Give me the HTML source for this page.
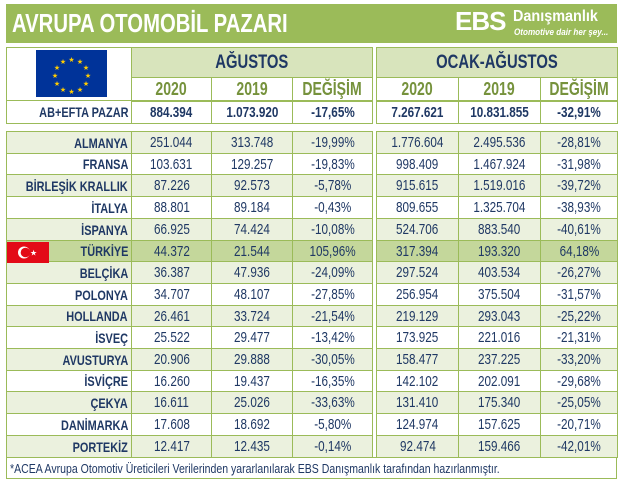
<!DOCTYPE html>
<html><head><meta charset="utf-8"><style>
*{margin:0;padding:0;box-sizing:border-box}
body{width:622px;height:481px;background:#fff;position:relative;overflow:hidden;font-family:"Liberation Sans",sans-serif}
.a{position:absolute}
.c{position:absolute;display:flex;align-items:center;justify-content:center;border:1px solid #9bbb59;font-size:15px;color:#1f3864;white-space:nowrap}
.c span{display:inline-block;transform:scaleX(.78)}
.l{justify-content:flex-end;padding-right:3px;font-weight:bold;font-size:14px}
.l span{transform-origin:right center}
.h{background:#d8e4bc;font-weight:bold;font-size:19px;color:#1f3864}
.y{font-weight:bold;font-size:18px;color:#76923c}
.b{font-weight:bold}
.f{justify-content:flex-start;padding-left:3px}
.f span{transform-origin:left center}
</style></head><body>
<div class="a" style="left:6px;top:4px;width:611px;height:39px;background:#9bbb59"></div>
<div class="a" style="left:12px;top:8px;font-size:26px;font-weight:bold;color:#fff;transform:scaleX(.78);transform-origin:left;white-space:nowrap">AVRUPA OTOMOBİL PAZARI</div>
<div class="a" style="left:455px;top:6px;font-size:26px;font-weight:900;color:#fff;letter-spacing:-1px">EBS</div>
<div class="a" style="left:513px;top:8px;font-size:16px;font-weight:bold;color:#fff;transform:scaleX(.9);transform-origin:left">Danışmanlık</div>
<div class="a" style="left:514px;top:27px;font-size:9px;font-weight:bold;font-style:italic;color:#fff;transform:scaleX(.9);transform-origin:left;white-space:nowrap">Otomotive dair her şey...</div>
<div id="t"></div>
<div class="a" style="left:36px;top:50px;width:71px;height:47px;background:#003399"></div>
<svg class="a" style="left:36px;top:50px" width="71" height="47">
<g fill="#ffcc00" font-size="7" text-anchor="middle" font-family="DejaVu Sans">
<text x="35.5" y="12">★</text><text x="44" y="14">★</text><text x="50" y="20">★</text><text x="52" y="28">★</text><text x="50" y="36">★</text><text x="44" y="42">★</text><text x="35.5" y="44">★</text><text x="27" y="42">★</text><text x="21" y="36">★</text><text x="19" y="28">★</text><text x="21" y="20">★</text><text x="27" y="14">★</text>
</g></svg>
<svg class="a" style="left:7px;top:242px" width="42" height="21"><rect width="42" height="21" fill="#e30a17"/><circle cx="17" cy="10.5" r="6" fill="#fff"/><circle cx="18.5" cy="10.5" r="4.8" fill="#e30a17"/><text x="23" y="13.5" fill="#fff" font-size="8" font-family="DejaVu Sans">★</text></svg>
<div class="c f" style="left:6px;top:457px;width:611px;height:22px;font-size:13px;color:#1f3864"><span style="transform:scaleX(.81)">*ACEA Avrupa Otomotiv Üreticileri Verilerinden yararlanılarak EBS Danışmanlık tarafından hazırlanmıştır.</span></div>
<script>
var L=[6,131,211,292,372],R=[376,458,540,617];
var h='';
function c(x1,x2,y1,y2,t,cl,bg){h+='<div class="c '+(cl||'')+'" style="left:'+x1+'px;top:'+y1+'px;width:'+(x2-x1+1)+'px;height:'+(y2-y1+1)+'px;'+(bg?'background:'+bg:'')+'"><span>'+t+'</span></div>';}
c(L[0],L[1],47,100,'');c(L[1],L[4],47,77,'AĞUSTOS','h');c(R[0],R[3],47,77,'OCAK-AĞUSTOS','h');
var yr=['2020','2019','DEĞİŞİM'];
for(var i=0;i<3;i++){c(L[i+1],L[i+2],77,101,yr[i],'y');c(R[i],R[i+1],77,101,yr[i],'y');}
c(L[0],L[1],100,123,'AB+EFTA PAZAR','l');
var ab=['884.394','1.073.920','-17,65%','7.267.621','10.831.855','-32,91%'];
for(i=0;i<3;i++){c(L[i+1],L[i+2],100,123,ab[i],'b');c(R[i],R[i+1],100,123,ab[i+3],'b');}
var d=[['ALMANYA','251.044','313.748','-19,99%','1.776.604','2.495.536','-28,81%'],
['FRANSA','103.631','129.257','-19,83%','998.409','1.467.924','-31,98%'],
['BİRLEŞİK KRALLIK','87.226','92.573','-5,78%','915.615','1.519.016','-39,72%'],
['İTALYA','88.801','89.184','-0,43%','809.655','1.325.704','-38,93%'],
['İSPANYA','66.925','74.424','-10,08%','524.706','883.540','-40,61%'],
['TÜRKİYE','44.372','21.544','105,96%','317.394','193.320','64,18%'],
['BELÇİKA','36.387','47.936','-24,09%','297.524','403.534','-26,27%'],
['POLONYA','34.707','48.107','-27,85%','256.954','375.504','-31,57%'],
['HOLLANDA','26.461','33.724','-21,54%','219.129','293.043','-25,22%'],
['İSVEÇ','25.522','29.477','-13,42%','173.925','221.016','-21,31%'],
['AVUSTURYA','20.906','29.888','-30,05%','158.477','237.225','-33,20%'],
['İSVİÇRE','16.260','19.437','-16,35%','142.102','202.091','-29,68%'],
['ÇEKYA','16.611','25.026','-33,63%','131.410','175.340','-25,05%'],
['DANİMARKA','17.608','18.692','-5,80%','124.974','157.625','-20,71%'],
['PORTEKİZ','12.417','12.435','-0,14%','92.474','159.466','-42,01%']];
for(var r=0;r<15;r++){var y1=Math.round(131+r*21.7),y2=Math.round(131+(r+1)*21.7);
var bg=r==5?'#c4d79b':(r%2==0?'#ebf1de':'#fff');
c(L[0],L[1],y1,y2,d[r][0],'l',bg);
for(i=0;i<3;i++){c(L[i+1],L[i+2],y1,y2,d[r][i+1],'',bg);c(R[i],R[i+1],y1,y2,d[r][i+4],'',bg);}}
document.getElementById('t').innerHTML=h;
</script>
</body></html>
